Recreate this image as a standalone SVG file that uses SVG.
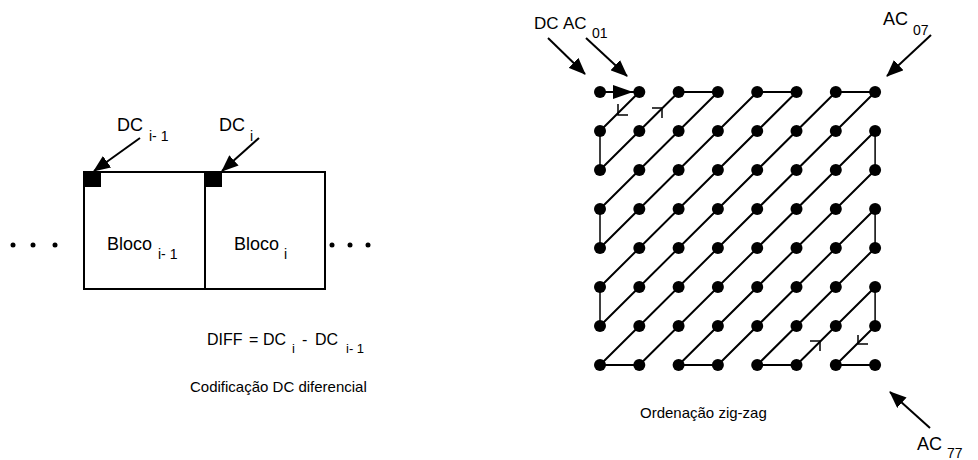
<svg xmlns="http://www.w3.org/2000/svg" width="978" height="460" viewBox="0 0 978 460">
<style>
text{font-family:"Liberation Sans",Arial,sans-serif;fill:#000}
.lb{font-size:18px}
.sb{font-size:14px}
.cap{font-size:15px}
.box{fill:#fff;stroke:#000;stroke-width:2}
.ln{fill:none;stroke:#000;stroke-width:2}
.thin{fill:none;stroke:#000;stroke-width:1.5}
.pt{fill:#000}
.arr{fill:none;stroke:#000;stroke-width:2;marker-end:url(#ah)}
</style>
<defs>
<marker id="ah" markerWidth="18" markerHeight="14" refX="16" refY="7" orient="auto" markerUnits="userSpaceOnUse">
<path d="M0,0 L17,7 L0,14 z" fill="#000"/>
</marker>
</defs>
<rect width="978" height="460" fill="#fff"/>

<!-- LEFT: differential DC coding -->
<g id="dots-left"><circle cx="13" cy="245" r="2.5" class="pt"/><circle cx="33" cy="245" r="2.5" class="pt"/><circle cx="55" cy="245" r="2.5" class="pt"/></g>
<g id="dots-right"><circle cx="332" cy="245" r="2.5" class="pt"/><circle cx="350" cy="245" r="2.5" class="pt"/><circle cx="368" cy="245" r="2.5" class="pt"/></g>
<g id="bloco-i-1">
<rect x="84" y="172" width="121" height="117" class="box"/>
<rect x="84" y="172" width="17" height="15" fill="#000"/>
<text x="107" y="250" class="lb">Bloco</text><text x="158" y="259" class="sb">i- 1</text>
</g>
<g id="bloco-i">
<rect x="205" y="172" width="120" height="117" class="box"/>
<rect x="205" y="172" width="17" height="15" fill="#000"/>
<text x="234" y="250" class="lb">Bloco</text><text x="284" y="259" class="sb">i</text>
</g>
<g id="label-dc-i-1"><text x="117" y="131" class="lb">DC</text><text x="149" y="141" class="sb">i- 1</text></g>
<g id="label-dc-i"><text x="219" y="131" class="lb">DC</text><text x="250" y="141" class="sb">i</text></g>
<g id="formula">
<text x="207" y="345" font-size="16">DIFF</text>
<text x="249" y="345" font-size="16">=</text>
<text x="263" y="345" font-size="16">DC</text>
<text x="292" y="353" font-size="13">i</text>
<text x="302" y="345" font-size="16">-</text>
<text x="315" y="345" font-size="16">DC</text>
<text x="346" y="353" font-size="13">i- 1</text>
</g>
<text x="190" y="392" class="cap">Codificação DC diferencial</text>

<!-- RIGHT: zig-zag ordering -->
<g id="label-dc-ac01"><text x="534" y="29" font-size="17">DC</text><text x="563" y="29" font-size="17">AC</text><text x="592" y="38" class="sb">01</text></g>
<g id="label-ac07"><text x="883" y="25" class="lb">AC</text><text x="913" y="35" class="sb">07</text></g>
<g id="label-ac77"><text x="917" y="450" class="lb">AC</text><text x="947" y="458" class="sb">77</text></g>
<text x="640" y="418" class="cap">Ordenação zig-zag</text>

<g id="connectors">
<line x1="140" y1="138" x2="94" y2="171" class="arr"/>
<line x1="259" y1="138" x2="222" y2="171" class="arr"/>
<line x1="548" y1="38" x2="585" y2="74" class="arr"/>
<line x1="586" y1="38" x2="627" y2="76" class="arr"/>
<line x1="931" y1="35" x2="887" y2="76" class="arr"/>
<line x1="930" y1="428" x2="890" y2="392" class="arr"/>
<path class="ln" d="M600,92H639.3 M678.6,92H717.9 M757.2,92H796.5 M835.8,92H875.1
M600,365H639.3 M678.6,365H717.9 M757.2,365H796.5 M835.8,365H875.1"/>
<path class="thin" d="M600,131V170 M600,209V248 M600,287V326 M875.1,131V170 M875.1,209V248 M875.1,287V326"/>
<path class="ln" d="M600,131L639.3,92 M600,170L678.6,92 M600,209L717.9,92 M600,248L757.2,92 M600,287L796.5,92 M600,326L835.8,92 M600,365L875.1,92
M639.3,365L875.1,131 M678.6,365L875.1,170 M717.9,365L875.1,209 M757.2,365L875.1,248 M796.5,365L875.1,287 M835.8,365L875.1,326"/>
<path d="M613,85L633,92L613,99z" fill="#000"/>
<path class="thin" d="M618,104V115H628 M652,108H662V118 M810,341H820V351 M858,335V344H868"/>
</g>

<g id="grid-points" class="pt">
<circle cx="600" cy="92" r="6"/><circle cx="639.3" cy="92" r="6"/><circle cx="678.6" cy="92" r="6"/><circle cx="717.9" cy="92" r="6"/><circle cx="757.2" cy="92" r="6"/><circle cx="796.5" cy="92" r="6"/><circle cx="835.8" cy="92" r="6"/><circle cx="875.1" cy="92" r="6"/>
<circle cx="600" cy="131" r="6"/><circle cx="639.3" cy="131" r="6"/><circle cx="678.6" cy="131" r="6"/><circle cx="717.9" cy="131" r="6"/><circle cx="757.2" cy="131" r="6"/><circle cx="796.5" cy="131" r="6"/><circle cx="835.8" cy="131" r="6"/><circle cx="875.1" cy="131" r="6"/>
<circle cx="600" cy="170" r="6"/><circle cx="639.3" cy="170" r="6"/><circle cx="678.6" cy="170" r="6"/><circle cx="717.9" cy="170" r="6"/><circle cx="757.2" cy="170" r="6"/><circle cx="796.5" cy="170" r="6"/><circle cx="835.8" cy="170" r="6"/><circle cx="875.1" cy="170" r="6"/>
<circle cx="600" cy="209" r="6"/><circle cx="639.3" cy="209" r="6"/><circle cx="678.6" cy="209" r="6"/><circle cx="717.9" cy="209" r="6"/><circle cx="757.2" cy="209" r="6"/><circle cx="796.5" cy="209" r="6"/><circle cx="835.8" cy="209" r="6"/><circle cx="875.1" cy="209" r="6"/>
<circle cx="600" cy="248" r="6"/><circle cx="639.3" cy="248" r="6"/><circle cx="678.6" cy="248" r="6"/><circle cx="717.9" cy="248" r="6"/><circle cx="757.2" cy="248" r="6"/><circle cx="796.5" cy="248" r="6"/><circle cx="835.8" cy="248" r="6"/><circle cx="875.1" cy="248" r="6"/>
<circle cx="600" cy="287" r="6"/><circle cx="639.3" cy="287" r="6"/><circle cx="678.6" cy="287" r="6"/><circle cx="717.9" cy="287" r="6"/><circle cx="757.2" cy="287" r="6"/><circle cx="796.5" cy="287" r="6"/><circle cx="835.8" cy="287" r="6"/><circle cx="875.1" cy="287" r="6"/>
<circle cx="600" cy="326" r="6"/><circle cx="639.3" cy="326" r="6"/><circle cx="678.6" cy="326" r="6"/><circle cx="717.9" cy="326" r="6"/><circle cx="757.2" cy="326" r="6"/><circle cx="796.5" cy="326" r="6"/><circle cx="835.8" cy="326" r="6"/><circle cx="875.1" cy="326" r="6"/>
<circle cx="600" cy="365" r="6"/><circle cx="639.3" cy="365" r="6"/><circle cx="678.6" cy="365" r="6"/><circle cx="717.9" cy="365" r="6"/><circle cx="757.2" cy="365" r="6"/><circle cx="796.5" cy="365" r="6"/><circle cx="835.8" cy="365" r="6"/><circle cx="875.1" cy="365" r="6"/>
</g>
</svg>
